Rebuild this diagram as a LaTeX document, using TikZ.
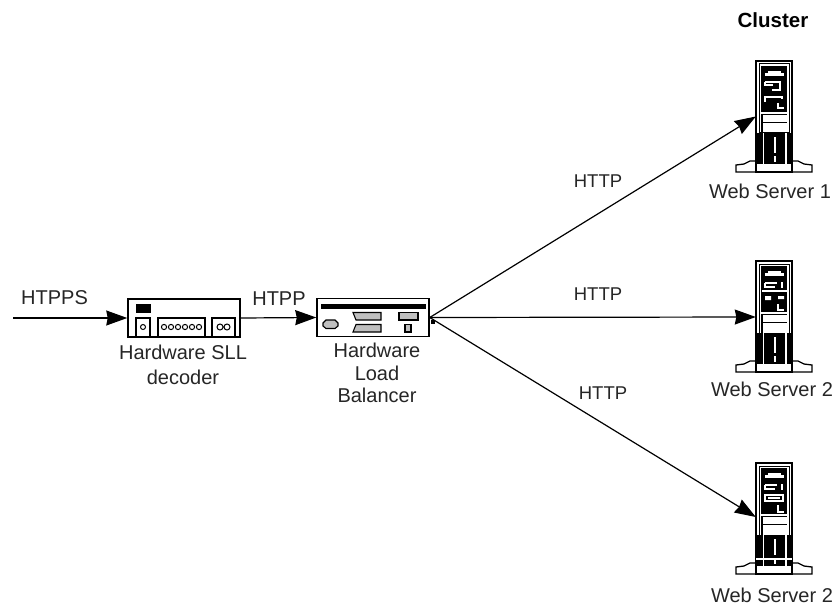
\documentclass[tikz,border=0pt]{standalone}
\usepackage{fontspec}
\setmainfont{Liberation Sans}
\usetikzlibrary{arrows.meta}
\tikzset{
  lbl/.style={inner sep=0pt,align=center,font=\fontsize{20}{20}\selectfont,text=black!85},
  httplbl/.style={lbl,font=\fontsize{18.5}{18.5}\selectfont},
  conn/.style={line width=1.2pt,-{Stealth[length=21pt,width=15pt,inset=1.5pt]}},
  box/.style={draw=black,line width=1.5pt,fill=white,inner sep=0pt,minimum width=112pt,minimum height=38pt},
  tower/.style={inner sep=0pt,minimum width=36pt,minimum height=111pt},
  gr/.style={draw=black,line width=1.1pt,fill=black!25},
  wb/.style={draw=black,line width=1.3pt,fill=white},
  pics/serverbase/.style={code={
    % feet
    \draw[wb] (-20,111) -- (-20,104) -- (-12,103) -- (-6,100) -- (0,100) -- (36,100) -- (42,100) -- (48,103) -- (56,104) -- (56,111) -- cycle;
    % tower body
    \draw[fill=white,line width=1.4pt] (0,0) rectangle (36,111);
    \draw[line width=1pt] (3,3) rectangle (33,72);
    \fill[black] (5,5) rectangle (31,54);
    \fill[black] (0,72) rectangle (36,103);
    \fill[white] (6.5,72) rectangle (8,103);
    \fill[white] (29,72) rectangle (30.5,103);
    \fill[white] (17.5,76) rectangle (19.5,92);
    \fill[white] (17.5,95) rectangle (19.5,101);
    \fill[white] (9,12) rectangle (28,15);
    \fill[white] (12,10) rectangle (25,12);
    \fill[white] (5,51) rectangle (31,53);
    \fill[black] (5,54) rectangle (7,72);
    \draw[black,line width=1.2pt] (7,61.5) -- (31,61.5);
  }}
}
\begin{document}
\begin{tikzpicture}[x=1pt,y=-1pt]
\useasboundingbox (0,0) rectangle (840,607);
\fill[white] (0,0) rectangle (840,607);

% devices
\node[box] (dec) at (184,318) {};
\fill[black] (136,304) rectangle (151,313);
\draw[line width=1.1pt] (136,337) -- (136,318) -- (150,318) -- (150,337);
\draw[line width=1pt] (143,327) circle (2.5);
\draw[line width=1.1pt] (158,337) -- (158,318) -- (205,318) -- (205,337);
\foreach \i in {0,...,5} \draw[line width=1pt] (164+\i*7,327) circle (2.6);
\draw[line width=1.1pt] (212,337) -- (212,318) -- (235,318) -- (235,337);
\draw[line width=1pt] (220,327) circle (3) (227,327) circle (3);

\node[box] (lb) at (373,317.5) {};
\fill[black] (321,304) rectangle (426,309);
\draw[gr] (326,320) -- (335,320) -- (338,323) -- (338,326) -- (335,328.5) -- (326,328.5) -- (323,326) -- (323,323) -- cycle;
\draw[gr] (353,312.5) -- (381,312.5) -- (381,320) -- (356,320) -- cycle;
\draw[gr] (356,324.5) -- (381,324.5) -- (381,332) -- (353,332) -- cycle;
\draw[gr] (399,312.5) rectangle (418,320);
\draw[gr] (405,324.5) rectangle (411,332);

% servers
\node[tower] (s1) at (774,116.5) {};
\node[tower] (s2) at (774,316.5) {};
\node[tower] (s3) at (774,518.5) {};
\pic at (756,61) {serverbase};
\pic at (756,261) {serverbase};
\pic at (756,463) {serverbase};
% server 1 panel
\begin{scope}[shift={(756,61)}]
\draw[white,line width=1.2pt] (9,21) -- (24,21) -- (24,29) -- (16,29) (9,21) -- (9,24) -- (17,24);
\draw[white,line width=1.2pt] (9,41) -- (9,36) -- (26,36) -- (26,38);
\draw[white,line width=1.2pt] (22,42) -- (22,47) -- (28,47);
\end{scope}
% server 2 panel
\begin{scope}[shift={(756,261)}]
\draw[white,line width=1.2pt] (9,22) -- (21,22) (9,22) -- (9,26) -- (19,26);
\fill[white] (25,21) rectangle (27,27);
\fill[white] (6,29) rectangle (31,31);
\fill[white] (9,35) rectangle (15,39) (22,35) rectangle (28,38);
\draw[white,line width=1.2pt] (22,43) -- (22,49) -- (28,49);
\end{scope}
% server 3 panel
\begin{scope}[shift={(756,463)}]
\draw[white,line width=1.2pt] (9,22) -- (21,22) (9,22) -- (9,26) -- (19,26);
\fill[white] (25,21) rectangle (27,27);
\draw[white,line width=1.2pt] (9,32) rectangle (27,38);
\fill[white] (12,34) rectangle (24,36);
\draw[white,line width=1.2pt] (22,42) -- (22,49) -- (28,49);
\fill[white] (0,95) rectangle (36,97);
\end{scope}

% text
\node[lbl,anchor=base] (tin) at (54.5,304) {HTPPS};
\node[lbl,anchor=base] (tmid) at (279,305) {HTPP};
\node[lbl] (tdec) at (183,365) {Hardware SLL\\[5pt]decoder};
\node[lbl] (tlb) at (377,373) {Hardware\\[2.5pt]Load\\[2.5pt]Balancer};
\node[httplbl,anchor=base] (t1) at (598,187) {HTTP};
\node[httplbl,anchor=base] (t2) at (598,300) {HTTP};
\node[httplbl,anchor=base] (t3) at (603,399) {HTTP};
\node[lbl,font=\fontsize{20.5}{20.5}\selectfont\bfseries,text=black,anchor=base] (tcl) at (773,28) {Cluster};
\node[lbl,anchor=base] (n1) at (770,198.5) {Web Server 1};
\node[lbl,anchor=base] (n2) at (772,396.5) {Web Server 2};
\node[lbl,anchor=base] (n3) at (772,602.5) {Web Server 2};

% connectors
\coordinate (in) at (13,318);
\draw[conn] (in) -- (dec.west);
\draw[conn] (dec.east) -- (lb.west);
\fill[black] ([xshift=1pt,yshift=-2pt]lb.east) rectangle ++(4,4);
\draw[conn] (lb.east) -- (s1.west);
\draw[conn] (lb.east) -- ([yshift=-.5pt]s2.west);
\draw[conn] (lb.east) -- ([yshift=1.5pt]s3.west);
\end{tikzpicture}
\end{document}
